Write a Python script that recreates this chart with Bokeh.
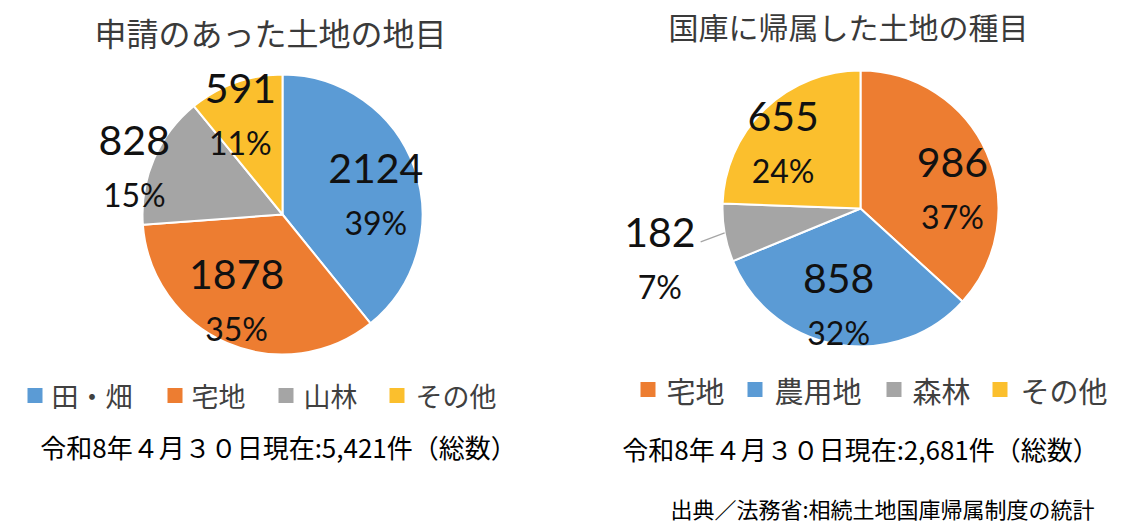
import math
from bokeh.plotting import figure
from bokeh.models import Range1d
from bokeh.core.properties import value
from bokeh.embed import file_html
from bokeh.resources import INLINE

# ---------------- data ----------------
left_title = "申請のあった土地の地目"
left_categories = ["田・畑", "宅地", "山林", "その他"]
left_values = [2124, 1878, 828, 591]
left_note = "令和8年４月３０日現在:5,421件（総数）"

right_title = "国庫に帰属した土地の種目"
right_categories = ["宅地", "農用地", "森林", "その他"]
right_values = [986, 858, 182, 655]
right_note = "令和8年４月３０日現在:2,681件（総数）"

source_note = "出典／法務省:相続土地国庫帰属制度の統計"

# ---------------- styles / layout ----------------
BLUE, ORANGE, GRAY, YELLOW = "#5B9BD5", "#ED7D31", "#A5A5A5", "#FBBF2D"
left_colors = [BLUE, ORANGE, GRAY, YELLOW]
right_colors = [ORANGE, BLUE, GRAY, YELLOW]

W, H = 1124, 532
JP = "Noto Sans CJK JP"
NUM = "Lato"


def Y(py):
    return H - py


p = figure(width=W, height=H, x_range=Range1d(0, W), y_range=Range1d(0, H),
           x_axis_type=None, y_axis_type=None, toolbar_location=None,
           output_backend="svg", min_border=0)
p.grid.visible = False
p.outline_line_color = None
p.background_fill_color = "white"
p.border_fill_color = "white"

pies = [
    dict(cx=282, cy=214, r=140, values=left_values, colors=left_colors,
         cats=left_categories, title=left_title, tx=270, ty=31, tsize="32px",
         note=left_note, nx=278, ny=446,
         lab_f=[0.68, 0.70, 1.11, 0.77], lab_s=[-8, -4.5, 5.8, 3.4],
         leg_y=395, leg_sq=[27, 167, 278, 389], leg_tx=[51, 191, 303, 415], leg_size="27px"),
    dict(cx=860, cy=208, r=138, values=right_values, colors=right_colors,
         cats=right_categories, title=right_title, tx=848, ty=25, tsize="30px",
         note=right_note, nx=860, ny=448,
         lab_f=[0.68, 0.72, 1.50, 0.73], lab_s=[-12.3, -2.7, 4.0, 6.2],
         leg_y=389, leg_sq=[640, 747, 886, 992], leg_tx=[666, 774, 912, 1020], leg_size="29px"),
]

for pie in pies:
    vals = pie["values"]
    total = sum(vals)
    cx, cy, r = pie["cx"], Y(pie["cy"]), pie["r"]
    starts, ends, mids = [], [], []
    cum = 0.0
    for v in vals:
        a0 = math.radians(90 - (cum + v) / total * 360)
        a1 = math.radians(90 - cum / total * 360)
        starts.append(a0)
        ends.append(a1)
        mids.append((a0 + a1) / 2)
        cum += v
    p.wedge(x=[cx] * len(vals), y=[cy] * len(vals), radius=r,
            start_angle=starts, end_angle=ends, direction="anticlock",
            fill_color=pie["colors"], line_color="white", line_width=2)

    # data labels
    vx, vy, px_, py_, vt, pt = [], [], [], [], [], []
    for i, v in enumerate(vals):
        a = mids[i] + math.radians(pie["lab_s"][i])
        d = r * pie["lab_f"][i]
        bx = cx + d * math.cos(a)
        by = cy + d * math.sin(a)
        vx.append(bx); vy.append(by + 27)
        px_.append(bx); py_.append(by - 27)
        vt.append(str(v))
        pt.append(f"{round(v / total * 100)}%")
        if pie["lab_f"][i] > 1.3:
            ex = cx + r * math.cos(mids[i])
            ey = cy + r * math.sin(mids[i])
            p.line(x=[ex, ex - 24], y=[ey, ey - 9], line_color="#A5A5A5", line_width=1.2)
    p.text(x=vx, y=vy, text=vt, text_font=value(NUM), text_font_size=value("41px"),
           text_align="center", text_baseline="middle", text_color="#111111")
    p.text(x=px_, y=py_, text=pt, text_font=value(NUM), text_font_size=value("32px"),
           text_align="center", text_baseline="middle", text_color="#111111")

    # title
    p.text(x=[pie["tx"]], y=[Y(pie["ty"])], text=[pie["title"]], text_font=value(JP),
           text_font_size=value(pie["tsize"]), text_align="center", text_baseline="middle",
           text_color="#3A3A3A")

    # legend
    ly = Y(pie["leg_y"])
    p.rect(x=[s + 7.5 for s in pie["leg_sq"]], y=[ly] * 4, width=15, height=15,
           fill_color=pie["colors"], line_color=None)
    p.text(x=pie["leg_tx"], y=[ly] * 4, text=pie["cats"], text_font=value(JP),
           text_font_size=value(pie["leg_size"]), text_align="left", text_baseline="middle",
           text_color="#404040")

    # note
    p.text(x=[pie["nx"]], y=[Y(pie["ny"])], text=[pie["note"]], text_font=value(JP),
           text_font_size=value("26px"), text_align="center", text_baseline="middle",
           text_color="#000000")

p.text(x=[1094], y=[Y(507)], text=[source_note], text_font=value(JP),
       text_font_size=value("22px"), text_align="right", text_baseline="middle",
       text_color="#000000")

open("out.html", "w").write(file_html(p, INLINE))
